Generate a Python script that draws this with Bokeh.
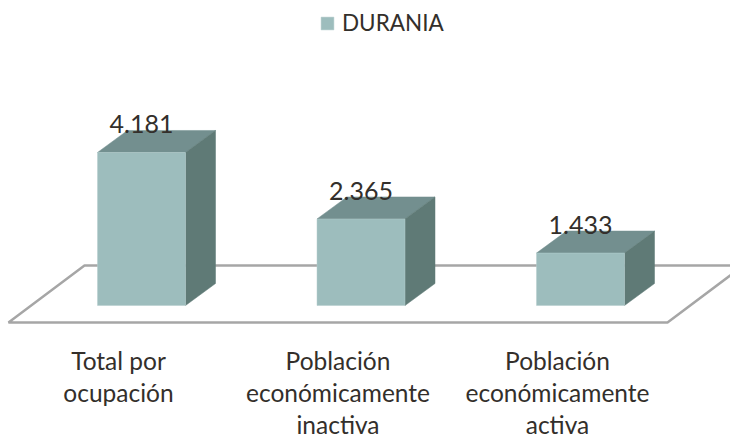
from bokeh.plotting import figure, ColumnDataSource
from bokeh.models import Range1d, Legend, LegendItem
from bokeh.core.properties import value
from bokeh.embed import file_html
from bokeh.resources import INLINE

categories = [["Total por", "ocupación"],
              ["Población", "económicamente", "inactiva"],
              ["Población", "económicamente", "activa"]]
series_name = "DURANIA"
values = [4181, 2365, 1433]
value_labels = ["4.181", "2.365", "1.433"]

FONT = "Lato"
TEXT = "#332f2b"
FRONT, TOP, SIDE = "#9dbdbd", "#738f8f", "#5f7a76"
FLOOR = "#a6a6a6"

W, H = 730, 437
PX_X = 219.5          # px per category
PX_Y = 0.0366         # px per unit
X0_PAGE, Y0_PAGE = 141, 305  # page position of category 0 / value 0
BAR = 88 / PX_X
DX, DY = 30 / PX_X, 22 / PX_Y

p = figure(width=W, height=H, output_backend="svg", toolbar_location=None,
           x_range=Range1d((0 - X0_PAGE) / PX_X, (W - X0_PAGE) / PX_X),
           y_range=Range1d((Y0_PAGE - H) / PX_Y, Y0_PAGE / PX_Y),
           min_border=0, outline_line_color=None)
p.axis.visible = False
p.grid.visible = False
p.background_fill_color = "white"

# floor of the 3-D plot
fy0, fy1 = -17 / PX_Y, 40 / PX_Y
fx0, fx1 = (8 - X0_PAGE) / PX_X, (667 - X0_PAGE) / PX_X
fdx = 76 / PX_X
p.line([fx1 + fdx, fx0 + fdx, fx0, fx1, fx1 + fdx],
       [fy1, fy1, fy0, fy0, fy1], line_color=FLOOR, line_width=2.5)

xs = [0, 1, 2]
left = [x - BAR / 2 for x in xs]
right = [x + BAR / 2 for x in xs]

top_xs = [[l, r, r + DX, l + DX] for l, r in zip(left, right)]
top_ys = [[v, v, v + DY, v + DY] for v in values]
side_xs = [[r, r + DX, r + DX, r] for r in right]
side_ys = [[0, DY, v + DY, v] for v in values]

p.patches(top_xs, top_ys, fill_color=TOP, line_color=TOP, line_width=0.5)
p.patches(side_xs, side_ys, fill_color=SIDE, line_color=SIDE, line_width=0.5)
front = p.quad(left=left, right=right, bottom=[0] * 3, top=values,
               fill_color=FRONT, line_color="#b4cccc", line_width=0.5)

p.text(xs, values, text=value_labels, text_font=value(FONT), text_font_size="25px",
       text_color=TEXT, text_align="center", text_baseline="middle", y_offset=-28)

# category labels, one row per line
lx, ly, lt, lo = [], [], [], []
for x, rows in zip(xs, categories):
    for i, row in enumerate(rows):
        lx.append(x - 23 / PX_X)
        ly.append(0)
        lt.append(row)
        lo.append(55 + 32 * i)
p.text(x="x", y="y", text="t", y_offset="o",
       source=ColumnDataSource(dict(x=lx, y=ly, t=lt, o=lo)),
       text_font=value(FONT), text_font_size="24.5px", text_color=TEXT,
       text_align="center", text_baseline="middle")

legend = Legend(items=[LegendItem(label=series_name, renderers=[front])],
                location=(319, H - 36), orientation="horizontal",
                border_line_color=None, background_fill_alpha=0,
                glyph_width=16, glyph_height=16, padding=0, margin=0,
                label_standoff=7, label_text_font=FONT, label_text_font_size="22.5px",
                label_text_color=TEXT, label_height=16)
p.add_layout(legend)

open("out.html", "w").write(file_html(p, INLINE))
